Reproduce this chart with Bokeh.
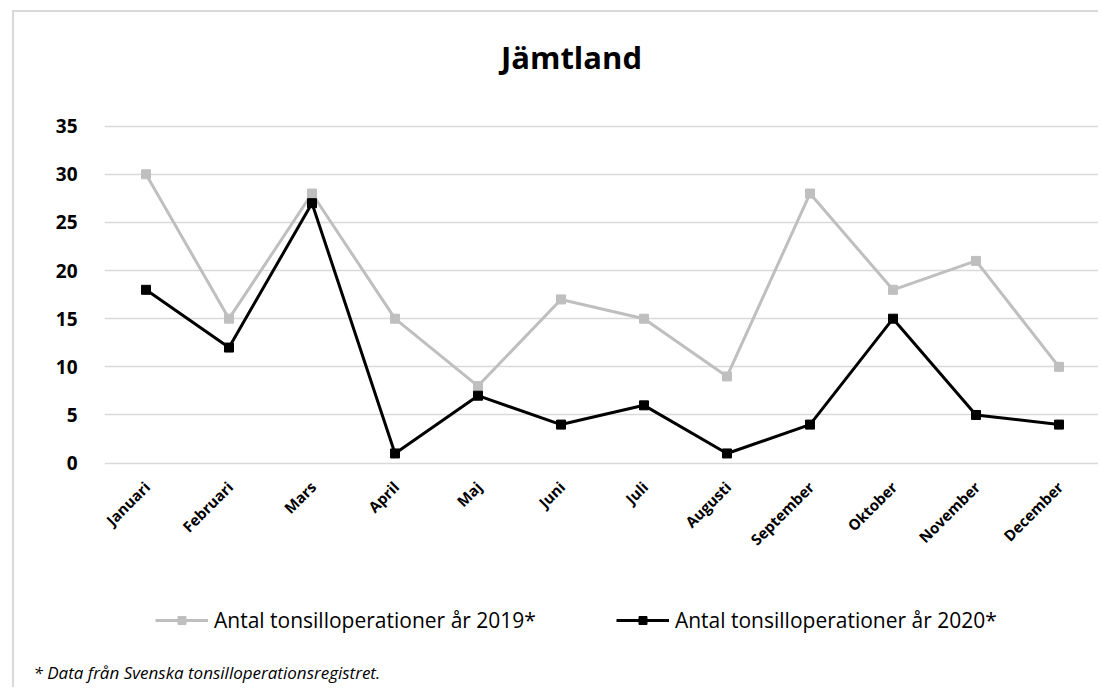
import math
from bokeh.plotting import figure
from bokeh.models import Legend, LegendItem, Title, Label, FixedTicker, ColumnDataSource
from bokeh.core.properties import value
from bokeh.embed import file_html
from bokeh.resources import INLINE

months = ["Januari", "Februari", "Mars", "April", "Maj", "Juni", "Juli",
          "Augusti", "September", "Oktober", "November", "December"]
ops_2019 = [30, 15, 28, 15, 8, 17, 15, 9, 28, 18, 21, 10]
ops_2020 = [18, 12, 27, 1, 7, 4, 6, 1, 4, 15, 5, 4]
y_ticks = [0, 5, 10, 15, 20, 25, 30, 35]
title_text = "Jämtland"
label_2019 = "Antal tonsilloperationer år 2019*"
label_2020 = "Antal tonsilloperationer år 2020*"
footnote = "* Data från Svenska tonsilloperationsregistret."

FONT = "Open Sans"

# layout (pixels within the canvas)
W, H = 1086, 677
FRAME_LEFT = 90
FRAME_BOTTOM = 643          # canvas y of the frame bottom
Y_TOP_PX, Y_ZERO_PX = 114, 452   # canvas y of 35 and 0
px_per_unit = (Y_ZERO_PX - Y_TOP_PX) / 35
y_end = 35 + Y_TOP_PX / px_per_unit
y_start = -(FRAME_BOTTOM - Y_ZERO_PX) / px_per_unit

p = figure(width=W, height=H, x_range=months, y_range=(y_start, y_end),
           output_backend="svg", toolbar_location=None,
           min_border_left=FRAME_LEFT, min_border_right=0, min_border_top=0,
           min_border_bottom=H - FRAME_BOTTOM)
p.margin = (10, 0, 0, 12)
p.styles = {"border-left": "2px solid #d9d9d9", "border-top": "2px solid #d9d9d9"}

p.outline_line_color = None
p.xgrid.grid_line_color = None
p.ygrid.grid_line_color = "#d9d9d9"
p.ygrid.grid_line_width = 1.5
p.xaxis.visible = False

p.yaxis.ticker = FixedTicker(ticks=y_ticks)
p.yaxis.axis_line_color = None
p.yaxis.major_tick_line_color = None
p.yaxis.minor_tick_line_color = None
p.yaxis.major_label_standoff = 21
p.yaxis.major_label_text_font = FONT
p.yaxis.major_label_text_font_style = "bold"
p.yaxis.major_label_text_font_size = "19px"
p.yaxis.major_label_text_color = "#000000"

# category labels under the zero line
cat_src = ColumnDataSource(dict(x=months, y=[0] * len(months), t=months))
p.text(x="x", y="y", text="t", source=cat_src, angle=math.pi / 4,
       text_align="right", text_baseline="middle", x_offset=1, y_offset=21,
       text_font=value(FONT), text_font_size=value("15px"),
       text_font_style="bold", text_color="#000000")

l1 = p.line(months, ops_2019, line_color="#bfbfbf", line_width=3)
s1 = p.scatter(months, ops_2019, marker="square", size=9, fill_color="#bfbfbf", line_color="#bfbfbf")
l2 = p.line(months, ops_2020, line_color="#000000", line_width=3)
s2 = p.scatter(months, ops_2020, marker="square", size=9, fill_color="#000000", line_color="#000000")

legend = Legend(items=[LegendItem(label=label_2019, renderers=[l1, s1]),
                       LegendItem(label=label_2020, renderers=[l2, s2])],
                orientation="horizontal", location=(51, 19),
                glyph_width=53, glyph_height=20, label_standoff=6,
                spacing=80, padding=0, margin=0,
                border_line_color=None, background_fill_alpha=0,
                label_text_font=FONT, label_text_font_size="21px",
                label_text_color="#000000")
p.add_layout(legend, "center")

title = Label(x=467, y=FRAME_BOTTOM - 46, x_units="screen", y_units="screen",
              text=title_text, text_align="center", text_baseline="alphabetic",
              text_font=FONT, text_font_size="31px", text_font_style="bold",
              text_color="#000000")
p.add_layout(title)

foot = Title(text=footnote, align="left", offset=-71, standoff=11,
             text_font=FONT, text_font_style="italic", text_font_size="17px",
             text_color="#000000")
p.add_layout(foot, "below")

open("out.html", "w").write(file_html(p, INLINE))
